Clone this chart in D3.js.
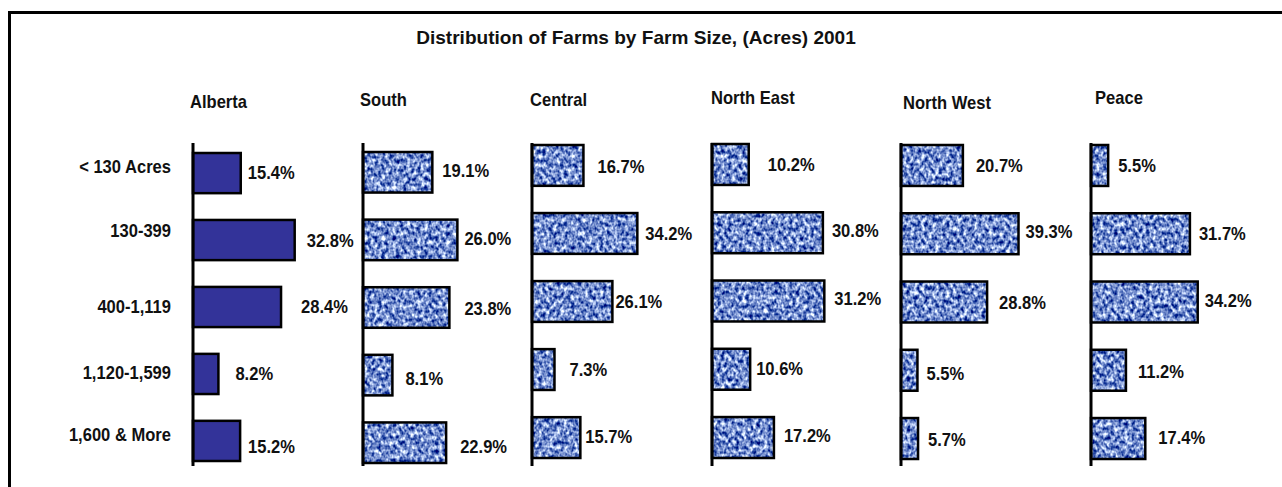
<!DOCTYPE html>
<html>
<head>
<meta charset="utf-8">
<script src="https://cdn.jsdelivr.net/npm/d3@7"></script>
<style>
  html, body { margin: 0; padding: 0; background: #fff; }
  svg { display: block; }
  text { font-family: "Liberation Sans", Arial, sans-serif; font-weight: bold; fill: #111; font-size: 18px; }
</style>
</head>
<body>
<svg id="chart" width="1282" height="487"></svg>
<script>
// ---- data ----
const title = "Distribution of Farms by Farm Size, (Acres) 2001";
const categories = ["< 130 Acres", "130-399", "400-1,119", "1,120-1,599", "1,600 & More"];
const regions = ["Alberta", "South", "Central", "North East", "North West", "Peace"];
const alberta   = [15.4, 32.8, 28.4, 8.2, 15.2];
const south     = [19.1, 26.0, 23.8, 8.1, 22.9];
const central   = [16.7, 34.2, 26.1, 7.3, 15.7];
const northEast = [10.2, 30.8, 31.2, 10.6, 17.2];
const northWest = [20.7, 39.3, 28.8, 5.5, 5.7];
const peace     = [5.5, 31.7, 34.2, 11.2, 17.4];
const seriesValues = [alberta, south, central, northEast, northWest, peace];

// ---- layout (positions / styles only) ----
const axisX    = [193, 363, 532, 712, 901, 1091];
const pxPerPct = [3.1, 3.63, 3.08, 3.6, 2.99, 3.12];
const barTop   = [153, 152, 145, 144, 145, 145];
const barBot   = [461, 463, 458, 458, 459, 459];
const titleX   = [190, 360, 530, 711, 903, 1095];
const titleY   = [102, 100, 100, 98, 103, 98];
const labelGap = [[7, 12, 20, 17, 8], [10, 7, 15, 13, 14], [14, 8, 3, 15, 5],
                  [19, 9, 10, 6, 10], [13, 7, 12, 9, 10], [10, 9, 7, 12, 13]];
const labelDy  = [[0, 1, 0, 0, 6], [-2, -1, 1, 4, 4], [1, 0, 0, 0, -1],
                  [0, -2, -2, -1, -2], [0, -2, 1, 3, 1], [0, 0, -1, 1, -1]];
const catDy    = [-6, -9, 0, -1, -6];
const SX = 0.92;       // horizontal condensing of labels
const SX_TITLE = 1.06; // horizontal scale of the title

const svg = d3.select("#chart");

function addText(parent, x, y, str, anchor, sx) {
  const g = parent.append("g").attr("transform", `translate(${x},${y}) scale(${sx || SX},1)`);
  g.append("text").attr("x", 0).attr("y", 0)
    .attr("text-anchor", anchor || "start")
    .attr("dominant-baseline", "central")
    .text(str);
  return g;
}

// texture for regional bars
const defs = svg.append("defs");
const filt = defs.append("filter").attr("id", "denimNoise")
  .attr("x", 0).attr("y", 0).attr("width", 1).attr("height", 1)
  .attr("filterUnits", "objectBoundingBox")
  .attr("color-interpolation-filters", "sRGB");
filt.append("feTurbulence").attr("type", "fractalNoise")
  .attr("baseFrequency", "0.28 0.22").attr("numOctaves", 2).attr("seed", 7).attr("result", "n");
filt.append("feColorMatrix").attr("in", "n").attr("type", "matrix")
  .attr("values", "2.0 0 0 0 -0.55  1.8 0 0 0 -0.35  1.1 0 0 0 0.25  0 0 0 0 1");
const pat = defs.append("pattern").attr("id", "denim")
  .attr("patternUnits", "userSpaceOnUse").attr("width", 1282).attr("height", 487);
pat.append("rect").attr("width", 1282).attr("height", 487).attr("fill", "#7090d0")
  .attr("filter", "url(#denimNoise)");

// frame
svg.append("path")
  .attr("d", "M9.5,487 L9.5,12.5 L1282,12.5")
  .attr("fill", "none").attr("stroke", "#000").attr("stroke-width", 3);

// title
addText(svg, 636, 38, title, "middle", SX_TITLE);

regions.forEach((reg, p) => {
  const vals = seriesValues[p];
  const x = d3.scaleLinear().domain([0, 40]).range([axisX[p], axisX[p] + 40 * pxPerPct[p]]);
  const y = d3.scaleBand().domain(categories).range([barTop[p], barBot[p]])
    .paddingInner(0.4).paddingOuter(0);
  const g = svg.append("g");

  // region title
  addText(g, titleX[p], titleY[p], reg);

  // bars
  g.selectAll("rect.bar").data(vals).enter().append("rect")
    .attr("class", "bar")
    .attr("x", x(0))
    .attr("y", (d, i) => y(categories[i]))
    .attr("width", d => x(d) - x(0))
    .attr("height", y.bandwidth())
    .attr("fill", p === 0 ? "#333399" : "url(#denim)")
    .attr("stroke", "#000").attr("stroke-width", 2.5);

  // axis line
  g.append("line").attr("x1", axisX[p]).attr("x2", axisX[p])
    .attr("y1", 143).attr("y2", 466)
    .attr("stroke", "#000").attr("stroke-width", 3);

  // value labels
  vals.forEach((d, i) => {
    addText(g, x(d) + labelGap[p][i],
      y(categories[i]) + y.bandwidth() / 2 + labelDy[p][i],
      d.toFixed(1) + "%");
  });

  // category labels on first panel
  if (p === 0) {
    categories.forEach((c, i) => {
      addText(g, 171, y(c) + y.bandwidth() / 2 + catDy[i], c, "end");
    });
  }
});
</script>
</body>
</html>
